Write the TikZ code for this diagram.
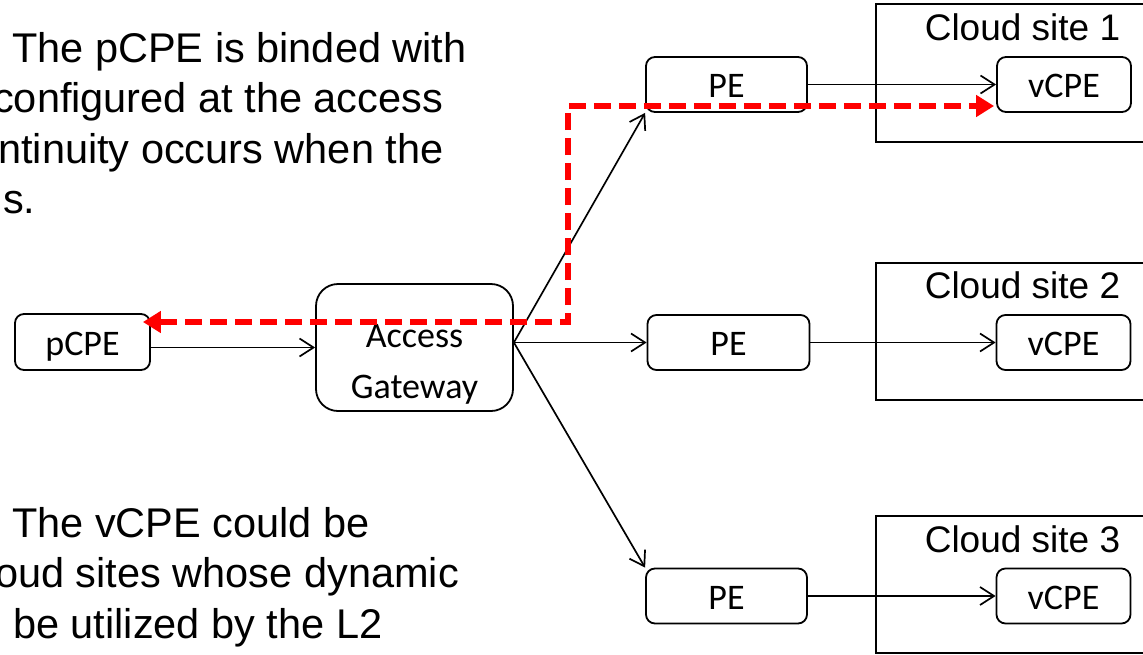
\documentclass[tikz,border=0pt]{standalone}
\usepackage{fontspec}
\setmainfont{Liberation Sans}
\newfontfamily\boxfont{Carlito}
\usetikzlibrary{arrows.meta,calc}

\begin{document}
\begin{tikzpicture}[x=1pt,y=-1pt,
  box/.style={draw, line width=1.8pt, rounded corners=9pt, inner sep=0pt,
    font=\boxfont\fontsize{36}{43}\selectfont, text height=26pt, text depth=0pt},
  gatebox/.style={draw, line width=1.8pt, rounded corners=22pt, inner sep=0pt},
  boxtext/.style={font=\boxfont\fontsize{36}{43}\selectfont, anchor=base, inner sep=0pt},
  site/.style={draw, line width=1.8pt},
  link/.style={line width=1.7pt, -{Straight Barb[length=14pt,width=18pt]}},
  redpath/.style={red, line width=5.5pt, dash pattern=on 17pt off 8pt,
    {Triangle[length=18pt,width=21pt]}-{Triangle[length=18pt,width=21pt]}},
  note/.style={font=\fontsize{41.5}{50}\selectfont, anchor=base west, inner sep=0pt},
  sitename/.style={font=\fontsize{37}{44}\selectfont, anchor=base, inner sep=0pt},
]
\useasboundingbox (0,0) rectangle (1143,654);
\clip (0,0) rectangle (1143,654);

% cloud sites
\draw[site] (876,4) rectangle (1170,142);
\draw[site] (876,263) rectangle (1170,400);
\draw[site] (876,516) rectangle (1170,653);
\node[sitename] (s1) at (1022.5,40) {Cloud site 1};
\node[sitename] (s2) at (1022.5,298) {Cloud site 2};
\node[sitename] (s3) at (1022.5,552) {Cloud site 3};

% devices
\node[box, minimum width=135pt, minimum height=56pt] (pcpe) at (82.5,342) {pCPE};
\node[gatebox, minimum width=197pt, minimum height=127pt] (gw) at (414.5,347.5) {};
\node[boxtext] (gwA) at (414.5,347) {Access};
\node[boxtext] (gwB) at (414.5,398) {Gateway};
\node[box, minimum width=161pt, minimum height=55pt] (pe1) at (726.5,84.5) {PE};
\node[box, minimum width=162pt, minimum height=55pt] (pe2) at (728.5,342.5) {PE};
\node[box, minimum width=161pt, minimum height=55pt] (pe3) at (726.5,596) {PE};
\node[box, minimum width=134pt, minimum height=55pt] (v1) at (1064,84.5) {vCPE};
\node[box, minimum width=134pt, minimum height=55pt] (v2) at (1063.5,342.5) {vCPE};
\node[box, minimum width=134pt, minimum height=55pt] (v3) at (1063.5,596) {vCPE};

% connections
\coordinate (fan) at (gw.east |- pe2.west);
\draw[link] (pcpe.east |- gw.west) -- (gw.west);
\draw[link] (fan) -- (pe1.south west);
\draw[link] (fan) -- (pe2.west);
\draw[link] (fan) -- (pe3.north west);
\draw[link] (pe1.east) -- (v1.west);
\draw[link] (pe2.east) -- (v2.west);
\draw[link] (pe3.east) -- (v3.west);

% notes
\node[note] (n1) at (12,62) {The pCPE is binded with};
\node[note] (n2) at (-7,112.5) {configured at the access};
\node[note] (n3) at (-2,163) {ntinuity occurs when the};
\node[note] (n4) at (3,213.5) {s.};
\node[note] (m1) at (12,537) {The vCPE could be};
\node[note] (m2) at (-5,587.5) {oud sites whose dynamic};
\node[note] (m3) at (13,638) {be utilized by the L2};

% redirected path
\coordinate (rA) at ($(pcpe.east)+(-8,-20)$);
\coordinate (rB) at (568,322);
\coordinate (rC) at (568,106);
\coordinate (rD) at ($(v1.west)+(-2,21.5)$);
\draw[redpath] (rA) -- (rB) -- (rC) -- (rD);
\end{tikzpicture}
\end{document}
